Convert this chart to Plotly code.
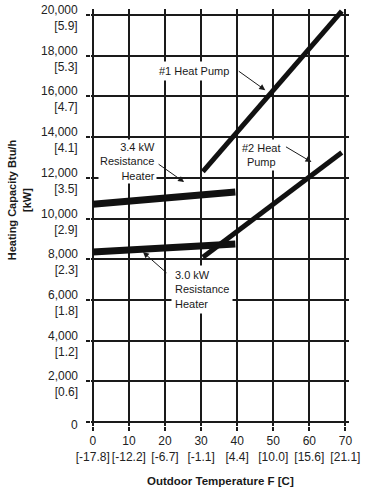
import plotly.graph_objects as go

# ---- data ----
hp1_temp = [30.5, 69]
hp1_cap = [12300, 20200]

hp2_temp = [30.5, 69]
hp2_cap = [8100, 13250]

res34_temp = [0, 39.5]
res34_cap = [10700, 11300]

res30_temp = [0, 39.5]
res30_cap = [8350, 8750]

x_ticks = [0, 10, 20, 30, 40, 50, 60, 70]
x_tick_c = ["-17.8", "-12.2", "-6.7", "-1.1", "4.4", "10.0", "15.6", "21.1"]
y_ticks = [0, 2000, 4000, 6000, 8000, 10000, 12000, 14000, 16000, 18000, 20000]
y_tick_kw = [None, "0.6", "1.2", "1.8", "2.3", "2.9", "3.5", "4.1", "4.7", "5.3", "5.9"]

x_text = [f"{t}<br>[{c}]" for t, c in zip(x_ticks, x_tick_c)]
y_text = [f"{v:,}" if k is None else f"{v:,}<br>[{k}]" for v, k in zip(y_ticks, y_tick_kw)]

INK = "#1a1a1a"
FONT = "Liberation Sans, Arial, sans-serif"

fig = go.Figure()
for xs, ys, w in [(res34_temp, res34_cap, 7), (res30_temp, res30_cap, 7),
                  (hp1_temp, hp1_cap, 5), (hp2_temp, hp2_cap, 5)]:
    fig.add_trace(go.Scatter(x=xs, y=ys, mode="lines",
                             line=dict(color="#111111", width=w), showlegend=False,
                             hoverinfo="skip"))

ann_font = dict(family=FONT, size=11, color=INK)
lab = dict(showarrow=False, font=ann_font, bgcolor="white")

# callout labels
fig.add_annotation(x=28.1, y=17250, text="#1 Heat Pump", borderpad=3, **lab)
fig.add_annotation(x=17.7, y=12780, text="3.4 kW<br>Resistance<br>Heater", align="right",
                   xanchor="right", borderpad=1, **lab)
fig.add_annotation(x=46.7, y=13120, text="#2 Heat<br>Pump", align="center", borderpad=2, **lab)
fig.add_annotation(x=21.8, y=6490, text="3.0 kW<br>Resistance<br>Heater", align="left",
                   xanchor="left", borderpad=3, **lab)

# callout arrows (head on the curve, tail next to its label)
arrow = dict(text="", showarrow=True, arrowhead=2, arrowsize=1.2, arrowwidth=1, arrowcolor=INK,
             axref="pixel", ayref="pixel")
fig.add_annotation(x=47.8, y=16310, ax=-28, ay=-20, **arrow)
fig.add_annotation(x=25.3, y=11790, ax=-27, ay=-19, **arrow)
fig.add_annotation(x=60.6, y=12780, ax=-27, ay=-16, **arrow)
fig.add_annotation(x=13.9, y=8350, ax=25, ay=22, **arrow)

# y tick labels (two-line, sitting slightly below their gridline as in the reference)
for v, t in zip(y_ticks, y_text):
    fig.add_annotation(xref="paper", yref="y", x=-0.043, y=v, text=t, showarrow=False,
                       xanchor="right", yanchor="middle", align="right", yshift=-3,
                       font=dict(family=FONT, size=12, color="#222222"))

# axis titles
fig.add_annotation(xref="paper", yref="paper", x=0.5, y=-0.132, text="<b>Outdoor Temperature F [C]</b>",
                   showarrow=False, font=dict(family=FONT, size=11.5, color=INK), yanchor="middle")
fig.add_annotation(xref="paper", yref="paper", x=-0.278, y=0.542, text="<b>Heating Capacity Btu/h<br>[kW]</b>",
                   showarrow=False, textangle=-90, font=dict(family=FONT, size=11, color=INK),
                   xanchor="center", yanchor="middle")

axis_common = dict(showgrid=True, gridcolor=INK, gridwidth=2, zeroline=False, showline=False,
                   ticks="outside", ticklen=4, tickwidth=2, tickcolor=INK, automargin=False,
                   tickfont=dict(family=FONT, size=12, color="#222222"))
fig.update_xaxes(range=[-0.5, 71], tickvals=x_ticks, ticktext=x_text, **axis_common)
fig.update_yaxes(range=[-200, 20300], tickvals=y_ticks, showticklabels=False, **axis_common)

fig.update_layout(width=372, height=496, margin=dict(l=91, r=23, t=9, b=70),
                  paper_bgcolor="white", plot_bgcolor="white", font=dict(family=FONT))
fig.write_html("out.html", config={"displayModeBar": False},
               post_script="document.body.style.margin='0';document.body.style.overflow='hidden';")
